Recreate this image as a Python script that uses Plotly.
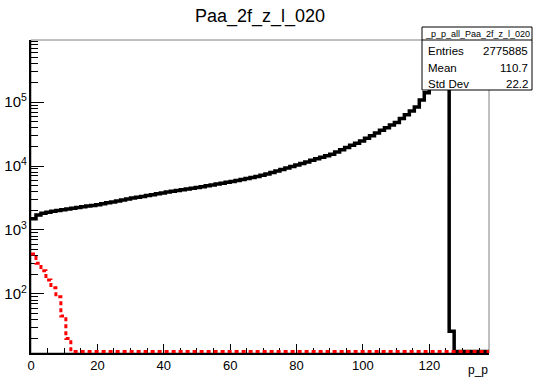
import numpy as np
import plotly.graph_objects as go

# ---------------- data ----------------
BIN_WIDTH = 1.5
N_BINS = 92
X_MIN = 0.0
X_MAX = 138.0

black_counts = [
    1500, 1720, 1830, 1900, 1960, 2020, 2080,
    2130, 2190, 2240, 2300, 2360, 2420, 2480,
    2570, 2660, 2750, 2850, 2950, 3050, 3150,
    3250, 3350, 3460, 3570, 3680, 3800,
    3910, 4020, 4130, 4250, 4370, 4490, 4610,
    4760, 4910, 5070, 5230, 5400, 5570, 5750,
    5960, 6180, 6410, 6650, 6890, 7150,
    7540, 7950, 8390, 8850, 9340, 9850, 10400,
    10990, 11620, 12280, 12980, 13720, 14500, 15330,
    16600, 17980, 19470, 21090, 22840, 24730,
    27200, 29900, 32900, 36200, 39800, 43800, 48200,
    55300, 63500, 72900, 83700,
    108000, 140000, 180000, 240000, 340000, 650000,
    26, 0, 0, 0, 0, 0, 0, 0,
]

red_counts = [420, 300, 230, 165, 125, 90, 45, 20] + [0] * 84

title_text = "Paa_2f_z_l_020"
stats_name = "_p_p_all_Paa_2f_z_l_020"
stats_labels = ["Entries", "Mean", "Std Dev"]
stats_values = ["2775885", "110.7", "22.2"]
x_title = "p_p"

Y_LOG_MIN = 1.074
Y_LOG_MAX = 5.973

# ---------------- layout helpers ----------------
W, H = 534, 378
L, R, T, B = 31, 489, 40, 353   # plot area in pixels


def px(x):
    return (x - L) / (R - L)


def py(y):
    return (B - y) / (B - T)


floor_val = 10 ** (Y_LOG_MIN + 0.025)
edges = X_MIN + BIN_WIDTH * np.arange(N_BINS + 1)


def step_y(counts):
    c = np.asarray(counts, dtype=float)
    c = np.where(c > 0, c, floor_val)
    return list(c) + [c[-1]]


FONT = "Liberation Sans, Arial, Helvetica, sans-serif"

fig = go.Figure()
fig.add_trace(go.Scatter(
    x=edges, y=step_y(black_counts), mode="lines", line_shape="hv",
    line=dict(color="black", width=3.5), hoverinfo="skip", showlegend=False,
))
fig.add_trace(go.Scatter(
    x=edges, y=step_y(red_counts), mode="lines", line_shape="hv",
    line=dict(color="#ff0000", width=3, dash="4px,3px"), hoverinfo="skip",
    showlegend=False,
))

fig.update_layout(
    width=W, height=H, autosize=False,
    margin=dict(l=L, r=W - R, t=T, b=H - B, pad=0),
    paper_bgcolor="white", plot_bgcolor="white",
    font=dict(family=FONT, color="black"),
    showlegend=False,
    title=dict(text=title_text, x=0.5, xref="paper", xanchor="center",
               y=1 - 16 / H, yref="container", yanchor="middle",
               font=dict(size=18, family=FONT, color="black")),
    xaxis=dict(
        range=[X_MIN, X_MAX], showgrid=False, zeroline=False, automargin=False,
        showline=True, linecolor="black", linewidth=1.5,
        ticks="inside", ticklen=9, tickwidth=1, tickcolor="black",
        tick0=0, dtick=20, tickfont=dict(size=13, family=FONT),
        minor=dict(ticks="inside", ticklen=5, tickwidth=1, tickcolor="black",
                   dtick=5, showgrid=False),
        layer="below traces",
    ),
    yaxis=dict(
        type="log", range=[Y_LOG_MIN, Y_LOG_MAX], showgrid=False, zeroline=False,
        automargin=False,
        showline=True, linecolor="black", linewidth=1.5,
        ticks="inside", ticklen=13, tickwidth=1, tickcolor="black",
        dtick=1, exponentformat="power", tickfont=dict(size=12, family=FONT),
        minor=dict(ticks="inside", ticklen=7, tickwidth=1, tickcolor="black",
                   dtick="D1", showgrid=False),
        layer="below traces",
    ),
)

# ROOT-like frame (grey top/right)
fig.add_shape(type="rect", xref="paper", yref="paper", x0=0, x1=1, y0=0, y1=1,
              line=dict(color="#808080", width=1), layer="below")

# stats box
bx0, bx1, by0, by1 = 422, 532, 27, 90
fig.add_shape(type="rect", xref="paper", yref="paper",
              x0=px(bx0), x1=px(bx1), y0=py(by1), y1=py(by0),
              line=dict(color="black", width=1), fillcolor="white", layer="above")
fig.add_shape(type="line", xref="paper", yref="paper",
              x0=px(bx0), x1=px(bx1), y0=py(40), y1=py(40),
              line=dict(color="black", width=1), layer="above")
fig.add_annotation(text=stats_name, xref="paper", yref="paper",
                   x=px((bx0 + bx1) / 2), y=py(33.5), xanchor="center",
                   yanchor="middle", showarrow=False,
                   font=dict(size=9, family=FONT, color="black"))
for lab, val, yy in zip(stats_labels, stats_values, [50.5, 67.5, 84]):
    fig.add_annotation(text=lab, xref="paper", yref="paper", x=px(426), y=py(yy),
                       xanchor="left", yanchor="middle", showarrow=False,
                       font=dict(size=11.5, family=FONT, color="black"))
    fig.add_annotation(text=val, xref="paper", yref="paper", x=px(530), y=py(yy),
                       xanchor="right", yanchor="middle", showarrow=False,
                       font=dict(size=11.5, family=FONT, color="black"))

# x-axis title at right end
fig.add_annotation(text=x_title, xref="paper", yref="paper", x=px(490), y=py(370),
                   xanchor="right", yanchor="middle", showarrow=False,
                   font=dict(size=12, family=FONT, color="black"))

fig.write_html("out.html")
